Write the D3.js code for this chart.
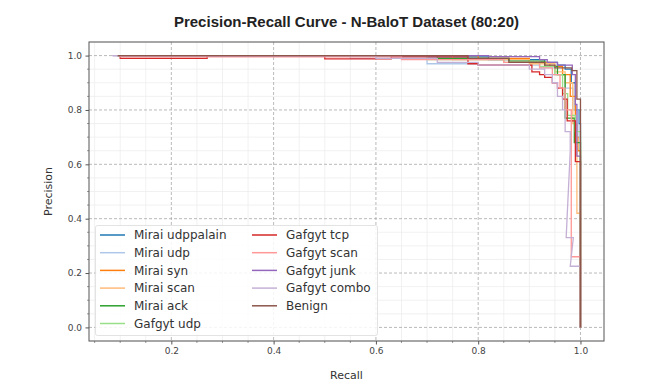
<!DOCTYPE html>
<html>
<head>
<meta charset="utf-8">
<script src="https://cdn.jsdelivr.net/npm/d3@7"></script>
<style>
  body { margin: 0; background: #fff; }
  text { font-family: "DejaVu Sans", sans-serif; }
</style>
</head>
<body>
<div id="chart"></div>
<script>
// series names + colours (tab20 order)
const seriesNames = ["Mirai udppalain", "Mirai udp", "Mirai syn", "Mirai scan", "Mirai ack", "Gafgyt udp",
  "Gafgyt tcp", "Gafgyt scan", "Gafgyt junk", "Gafgyt combo", "Benign"];
const seriesColors = ["#1f77b4", "#aec7e8", "#ff7f0e", "#ffbb78", "#2ca02c", "#98df8a",
  "#d62728", "#ff9896", "#9467bd", "#c5b0d5", "#8c564b"];

// [recall, precision] points
const miraiUdppalain = [[0.095,1],[0.70,1],[0.70,0.995],[0.82,0.995],[0.82,0.985],[0.93,0.985],[0.93,0.975],[0.955,0.975],[0.955,0.965],[0.97,0.965],[0.97,0.95],[0.982,0.95],[0.982,0.9],[0.99,0.9],[0.99,0.8],[0.997,0.8],[0.997,0.75],[1,0.75],[1,0]];
const miraiUdp = [[0.095,1],[0.55,1],[0.55,0.99],[0.70,0.99],[0.70,0.97],[0.80,0.97],[0.80,0.965],[0.92,0.965],[0.92,0.955],[0.95,0.955],[0.95,0.93],[0.97,0.93],[0.97,0.88],[0.985,0.88],[0.985,0.8],[0.995,0.8],[0.995,0.7],[1,0.7],[1,0]];
const miraiSyn = [[0.095,1],[0.80,1],[0.80,0.99],[0.90,0.99],[0.90,0.975],[0.94,0.975],[0.94,0.96],[0.965,0.96],[0.965,0.93],[0.98,0.93],[0.98,0.85],[0.99,0.85],[0.99,0.7],[0.995,0.7],[0.995,0.65],[1,0.65],[1,0]];
const miraiScan = [[0.095,1],[0.75,1],[0.75,0.985],[0.90,0.985],[0.90,0.97],[0.95,0.97],[0.95,0.94],[0.97,0.94],[0.97,0.9],[0.985,0.9],[0.985,0.75],[0.993,0.75],[0.993,0.42],[1,0.42],[1,0]];
const miraiAck = [[0.095,1],[0.72,1],[0.72,0.99],[0.86,0.99],[0.86,0.98],[0.93,0.98],[0.93,0.96],[0.955,0.96],[0.955,0.93],[0.97,0.93],[0.97,0.77],[0.988,0.77],[0.988,0.68],[1,0.68],[1,0]];
const gafgytUdp = [[0.095,1],[0.70,1],[0.70,0.985],[0.85,0.985],[0.85,0.975],[0.92,0.975],[0.92,0.96],[0.95,0.96],[0.95,0.93],[0.965,0.93],[0.965,0.86],[0.975,0.86],[0.975,0.78],[0.99,0.78],[0.99,0.72],[1,0.72],[1,0]];
const gafgytTcp = [[0.10,1],[0.10,0.99],[0.27,0.99],[0.27,1],[0.50,1],[0.50,0.988],[0.63,0.988],[0.63,0.995],[0.78,0.995],[0.78,0.97],[0.80,0.97],[0.80,0.965],[0.905,0.965],[0.905,0.94],[0.92,0.94],[0.92,0.93],[0.93,0.93],[0.93,0.92],[0.945,0.92],[0.945,0.9],[0.955,0.9],[0.955,0.88],[0.965,0.88],[0.965,0.84],[0.974,0.84],[0.974,0.76],[0.99,0.76],[0.99,0.61],[1,0.61],[1,0]];
const gafgytScan = [[0.10,1],[0.10,0.995],[0.65,0.995],[0.65,0.985],[0.85,0.985],[0.85,0.975],[0.92,0.975],[0.92,0.955],[0.945,0.955],[0.945,0.93],[0.96,0.93],[0.96,0.88],[0.97,0.88],[0.97,0.8],[0.982,0.8],[0.982,0.26],[1,0.26],[1,0]];
const gafgytJunk = [[0.085,1],[0.82,1],[0.82,0.996],[0.92,0.996],[0.92,0.985],[0.935,0.985],[0.935,0.975],[0.955,0.975],[0.955,0.965],[0.984,0.965],[0.984,0.93],[0.99,0.93],[0.99,0.82],[0.993,0.82],[0.993,0.63],[1,0.63],[1,0]];
const gafgytCombo = [[0.085,1],[0.60,1],[0.60,0.99],[0.72,0.99],[0.72,0.975],[0.80,0.975],[0.80,0.965],[0.90,0.965],[0.90,0.95],[0.93,0.95],[0.93,0.93],[0.945,0.93],[0.945,0.9],[0.955,0.9],[0.955,0.85],[0.965,0.85],[0.965,0.8],[0.97,0.8],[0.97,0.72],[0.98,0.72],[0.98,0.65],[0.972,0.33],[0.986,0.33],[0.98,0.225],[1,0.225],[1,0]];
const benign = [[0.095,1],[0.78,1],[0.78,0.99],[0.86,0.99],[0.86,0.975],[0.93,0.975],[0.93,0.965],[0.95,0.965],[0.95,0.955],[0.983,0.955],[0.983,0.945],[0.993,0.945],[0.993,0.84],[1,0.84],[1,0]];

const allSeries = [miraiUdppalain, miraiUdp, miraiSyn, miraiScan, miraiAck, gafgytUdp,
  gafgytTcp, gafgytScan, gafgytJunk, gafgytCombo, benign];

const xTicks = [0.2, 0.4, 0.6, 0.8, 1.0];
const yTicks = [0.0, 0.2, 0.4, 0.6, 0.8, 1.0];

const width = 669, height = 385;
const margin = {top: 42, right: 65, bottom: 44, left: 89};

const svg = d3.select("#chart").append("svg")
  .attr("width", width)
  .attr("height", height);

const x = d3.scaleLinear().domain([0.039, 1.046]).range([margin.left, width - margin.right]);
const y = d3.scaleLinear().domain([-0.05, 1.05]).range([height - margin.bottom, margin.top]);

// minor grid
const xMinor = d3.range(0.05, 1.05, 0.05).filter(v => Math.abs(v * 5 - Math.round(v * 5)) > 1e-6);
const yMinor = d3.range(-0.05, 1.06, 0.05).filter(v => Math.abs(v * 5 - Math.round(v * 5)) > 1e-6);

svg.append("g").selectAll("line").data(xMinor).enter().append("line")
  .attr("x1", d => x(d)).attr("x2", d => x(d))
  .attr("y1", margin.top).attr("y2", height - margin.bottom)
  .attr("stroke", "#ebebeb").attr("stroke-width", 0.7);
svg.append("g").selectAll("line").data(yMinor).enter().append("line")
  .attr("y1", d => y(d)).attr("y2", d => y(d))
  .attr("x1", margin.left).attr("x2", width - margin.right)
  .attr("stroke", "#ebebeb").attr("stroke-width", 0.7);

// major grid (dashed)
svg.append("g").selectAll("line").data(xTicks).enter().append("line")
  .attr("x1", d => x(d)).attr("x2", d => x(d))
  .attr("y1", margin.top).attr("y2", height - margin.bottom)
  .attr("stroke", "#a8a8a8").attr("stroke-width", 0.8).attr("stroke-dasharray", "3,2");
svg.append("g").selectAll("line").data(yTicks).enter().append("line")
  .attr("y1", d => y(d)).attr("y2", d => y(d))
  .attr("x1", margin.left).attr("x2", width - margin.right)
  .attr("stroke", "#a8a8a8").attr("stroke-width", 0.8).attr("stroke-dasharray", "3,2");

// curves
const line = d3.line().x(d => x(d[0])).y(d => y(d[1]));
allSeries.forEach(function(s, i) {
  svg.append("path")
    .datum(s)
    .attr("d", line)
    .attr("fill", "none")
    .attr("stroke", seriesColors[i])
    .attr("stroke-width", 1.3)
    .attr("stroke-linejoin", "miter");
});

// axes
const xAxis = d3.axisBottom(x).tickValues(xTicks).tickFormat(d3.format(".1f")).tickSize(3.5).tickPadding(3.5);
const yAxis = d3.axisLeft(y).tickValues(yTicks).tickFormat(d3.format(".1f")).tickSize(3.5).tickPadding(3.5);

const gx = svg.append("g").attr("transform", "translate(0," + (height - margin.bottom) + ")").call(xAxis);
const gy = svg.append("g").attr("transform", "translate(" + margin.left + ",0)").call(yAxis);
[gx, gy].forEach(function(g) {
  g.select(".domain").remove();
  g.selectAll(".tick line").attr("stroke", "#555");
  g.selectAll(".tick text").attr("fill", "#444").style("font-size", "9px").style("font-family", "DejaVu Sans");
});

// minor ticks
svg.append("g").selectAll("line").data(xMinor.filter(v => v > 0.039 && v < 1.046)).enter().append("line")
  .attr("x1", d => x(d)).attr("x2", d => x(d))
  .attr("y1", height - margin.bottom).attr("y2", height - margin.bottom + 2)
  .attr("stroke", "#555").attr("stroke-width", 0.6);
svg.append("g").selectAll("line").data(yMinor.filter(v => v > -0.05 && v < 1.05)).enter().append("line")
  .attr("y1", d => y(d)).attr("y2", d => y(d))
  .attr("x1", margin.left - 2).attr("x2", margin.left)
  .attr("stroke", "#555").attr("stroke-width", 0.6);

// frame
svg.append("rect")
  .attr("x", margin.left).attr("y", margin.top)
  .attr("width", width - margin.left - margin.right)
  .attr("height", height - margin.top - margin.bottom)
  .attr("fill", "none").attr("stroke", "#555").attr("stroke-width", 1);

// legend
const legend = svg.append("g");
legend.append("rect")
  .attr("x", 95.5).attr("y", 225.5).attr("width", 282).attr("height", 110)
  .attr("rx", 2)
  .attr("fill", "#fff").attr("fill-opacity", 0.85)
  .attr("stroke", "#dcdcdc").attr("stroke-width", 0.8);
seriesNames.forEach(function(name, i) {
  const col = i < 6 ? 0 : 1;
  const row = i < 6 ? i : i - 6;
  const lx = col === 0 ? 100 : 252;
  const ly = 235 + row * 17.7;
  legend.append("line")
    .attr("x1", lx).attr("x2", lx + 25)
    .attr("y1", ly).attr("y2", ly)
    .attr("stroke", seriesColors[i]).attr("stroke-width", 1.5);
  legend.append("text")
    .attr("x", lx + 34).attr("y", ly + 4.3)
    .attr("fill", "#333")
    .style("font-size", "12px")
    .text(name);
});

// labels
svg.append("text")
  .attr("x", (margin.left + width - margin.right) / 2).attr("y", 27)
  .attr("text-anchor", "middle")
  .attr("fill", "#222")
  .style("font-family", "'Liberation Sans', Arial, sans-serif")
  .style("font-size", "15px").style("font-weight", "bold")
  .text("Precision-Recall Curve - N-BaloT Dataset (80:20)");
svg.append("text")
  .attr("x", (margin.left + width - margin.right) / 2).attr("y", 379)
  .attr("text-anchor", "middle")
  .attr("fill", "#333")
  .style("font-size", "11px")
  .text("Recall");
svg.append("text")
  .attr("transform", "translate(52," + ((margin.top + height - margin.bottom) / 2) + ") rotate(-90)")
  .attr("text-anchor", "middle")
  .attr("fill", "#333")
  .style("font-size", "11px")
  .text("Precision");
</script>
</body>
</html>
